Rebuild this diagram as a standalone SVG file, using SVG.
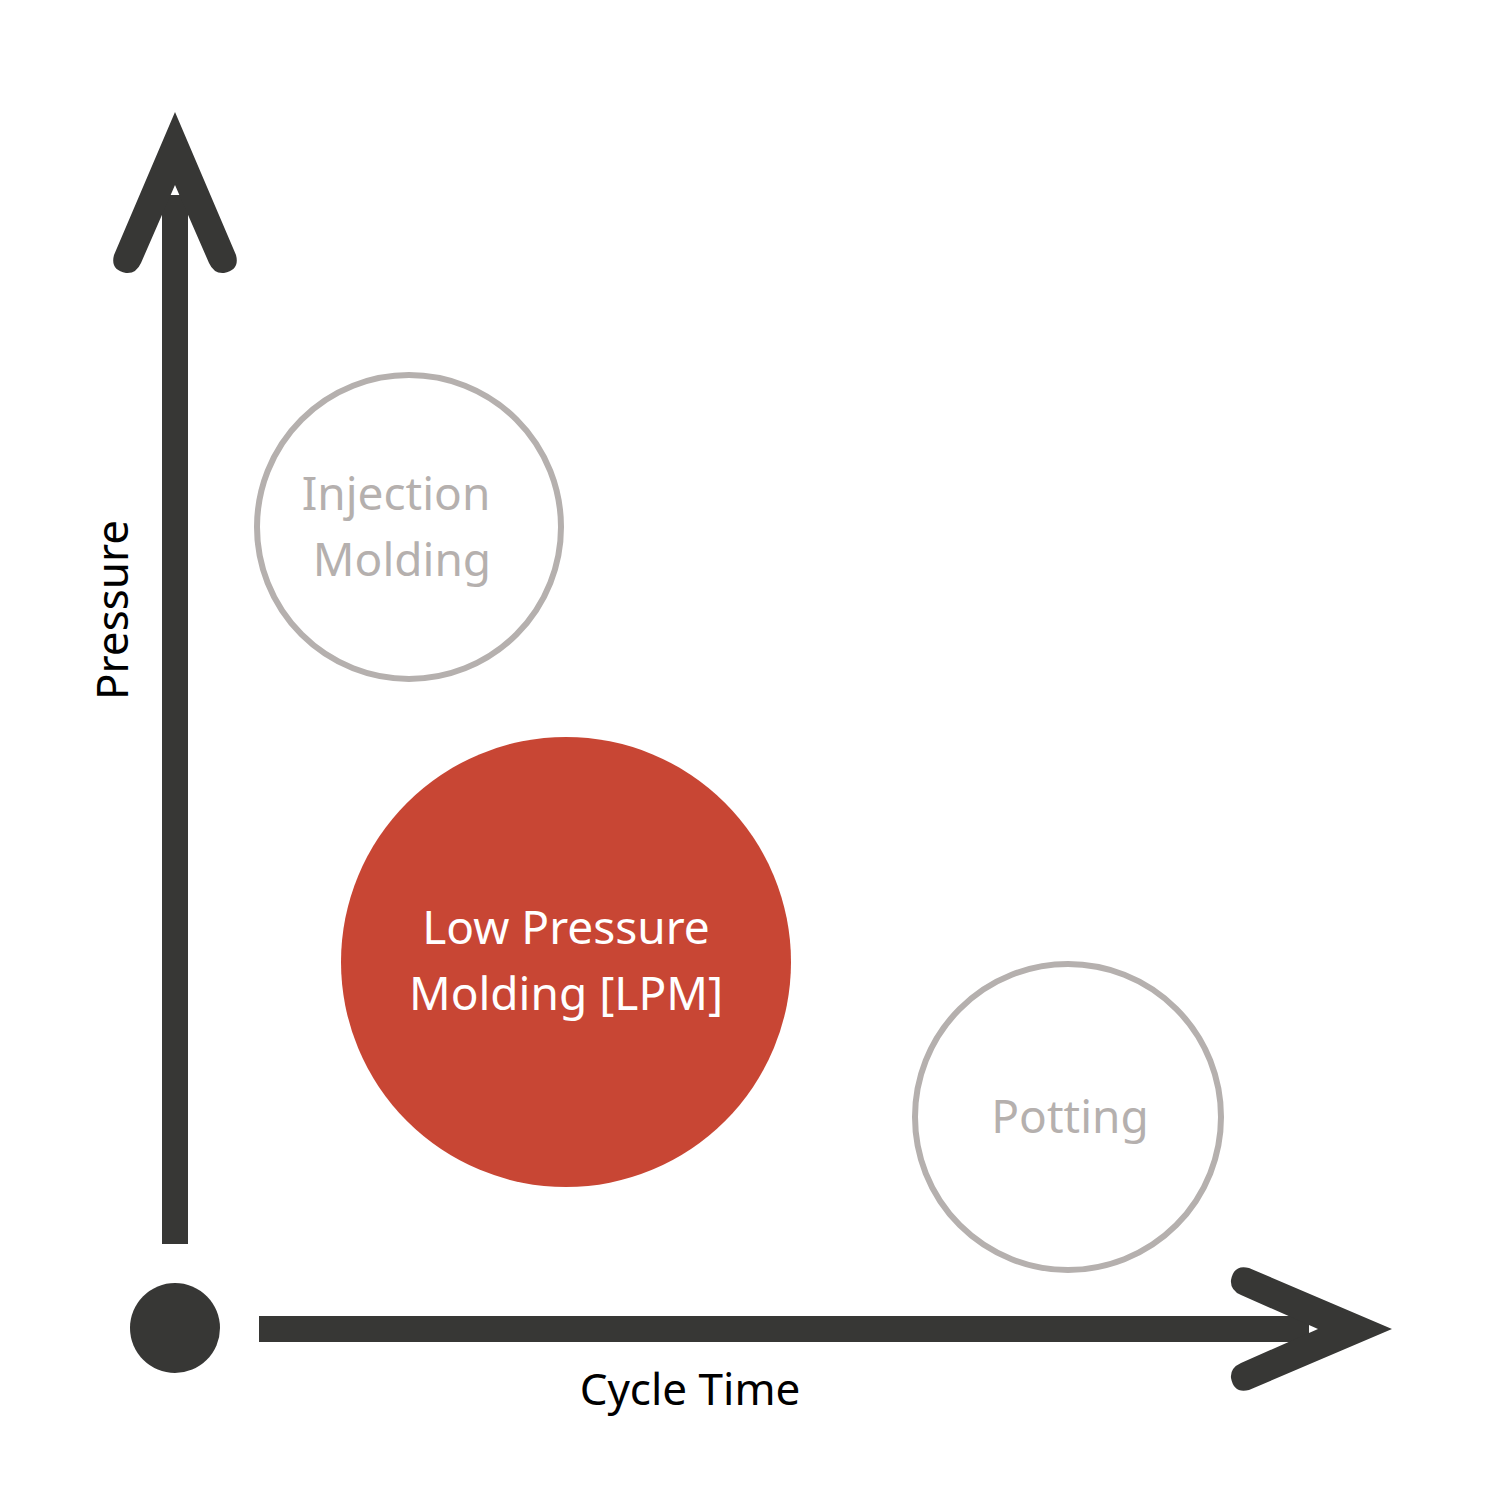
<svg xmlns="http://www.w3.org/2000/svg" width="1500" height="1500" viewBox="0 0 1500 1500">
<style>
text{font-family:"Noto Sans","Open Sans",sans-serif;text-anchor:middle}
.ax{fill:#373735}
.ring{fill:#fff;stroke:#b5b0ae;stroke-width:6}
.g{fill:#b5b0ae;font-size:46px}
.w{fill:#fff;font-size:46px}
.lb{fill:#000;font-size:44px}
</style>
<rect width="1500" height="1500" fill="#fff"/>
<g id="connectors">
<rect class="ax" x="162" y="195" width="26" height="1049"/>
<path class="ax" d="M175,112 L236,255 Q240,270 224,273 Q214,274 209,263 L175,185 L141,263 Q136,274 126,273 Q110,270 114,255 Z"/>
<rect class="ax" x="259" y="1316" width="1050" height="26"/>
<path class="ax" d="M1392,1329 L1249,1390 Q1234,1394 1231,1378 Q1230,1368 1241,1363 L1318,1329 L1241,1295 Q1230,1290 1231,1280 Q1234,1264 1249,1268 Z"/>
</g>
<g id="origin"><circle class="ax" cx="175" cy="1328" r="45"/></g>
<g id="injection"><circle class="ring" cx="409" cy="527" r="152"/>
<text class="g" x="396" y="510">Injection</text><text class="g" x="402" y="576">Molding</text></g>
<g id="lpm"><circle cx="566" cy="962" r="225" fill="#c84634"/>
<text class="w" x="566" y="944">Low Pressure</text><text class="w" x="566" y="1010">Molding [LPM]</text></g>
<g id="potting"><circle class="ring" cx="1068" cy="1117" r="153"/>
<text class="g" x="1070" y="1133">Potting</text></g>
<g id="labels">
<text class="lb" transform="translate(128,610) rotate(-90)">Pressure</text>
<text class="lb" x="690" y="1405">Cycle Time</text>
</g>
</svg>
